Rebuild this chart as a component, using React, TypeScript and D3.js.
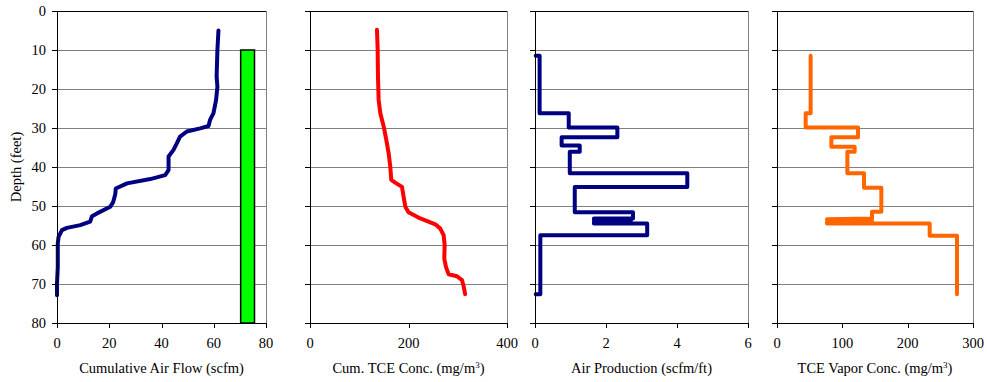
import * as d3 from "d3";

// depth axis
const depthTicks = [0, 10, 20, 30, 40, 50, 60, 70, 80];

// [value, depth] pairs
const airFlow: [number, number][] = [
  [61.8, 5.0], [61.4, 10], [61.1, 16.8], [61.4, 19.4], [60.9, 22.8], [59.9, 26.2],
  [58.6, 27.9], [58.0, 29.5], [54.8, 30.1], [49.7, 30.9], [47.1, 32.2], [45.9, 33.9],
  [44.6, 35.6], [42.7, 37.3], [42.7, 39.0], [42.7, 40.8], [41.4, 42.1], [35.7, 43.1],
  [26.8, 44.2], [22.5, 45.5], [22.3, 47.0], [21.5, 49.0], [20.4, 50.2], [15.3, 51.9],
  [13.4, 52.6], [12.7, 54.0], [8.9, 54.9], [3.8, 55.6], [1.9, 56.2], [0.6, 57.9],
  [0.3, 59.6], [0.3, 65.6], [0, 69.9], [0, 72.9],
];

const cumTce: [number, number][] = [
  [136, 4.8], [137.4, 9.9], [138, 16.8], [139.4, 22.8], [142.8, 26.2], [149.6, 29.6],
  [155, 33.1], [159.7, 36.5], [163, 39.9], [165, 43.3], [173, 44.0], [186.8, 45.1],
  [190, 47.6], [193.6, 50.2], [200, 51.6], [224, 53.2], [254.5, 54.7], [264.6, 55.8],
  [271.4, 57.5], [273.4, 60.0], [272.7, 63.5], [276, 65.6], [281.5, 67.5], [298.5, 68.0],
  [308.6, 69.0], [312, 70.6], [315, 72.6],
];

const airProduction: [number, number][] = [
  [0.02, 11.5], [0.13, 11.5], [0.13, 26.2], [0.95, 26.2], [0.95, 29.9], [2.32, 29.9],
  [2.32, 32.4], [0.75, 32.4], [0.75, 34.5], [1.26, 34.5], [1.26, 36.1], [0.98, 36.1],
  [0.98, 41.6], [4.29, 41.6], [4.29, 45.1], [1.12, 45.1], [1.12, 51.6], [2.76, 51.6],
  [2.76, 53.2], [1.66, 53.2], [1.66, 53.6], [2.7, 53.7], [1.66, 54.1], [1.66, 54.5],
  [3.16, 54.5], [3.16, 57.5], [0.15, 57.5], [0.15, 72.6], [0.02, 72.6],
];

const tceVapor: [number, number][] = [
  [51.5, 11.5], [51.5, 26.2], [43.9, 26.2], [43.9, 29.9], [124, 29.9], [124, 32.4],
  [83.2, 32.4], [83.2, 34.8], [118.9, 34.8], [118.9, 36.1], [107.7, 36.1], [107.7, 41.6],
  [133.2, 41.6], [133.2, 45.3], [159.7, 45.3], [159.7, 51.5], [145.4, 51.5], [145.4, 53.2],
  [76.5, 53.4], [145.4, 53.8], [76.5, 54.1], [76.5, 54.5], [233.7, 54.5], [233.7, 57.6],
  [275.5, 57.6], [275.5, 72.6],
];

// screened interval (x0, x1, depth top, depth bottom)
const screen = { x0: 70.3, x1: 75.6, top: 10, bottom: 80 };

const panels = [
  { left: 57, right: 266, max: 80, ticks: [0, 20, 40, 60, 80], data: airFlow, color: "#000080", title: "Cumulative Air Flow (scfm)", sup: false },
  { left: 310, right: 507, max: 400, ticks: [0, 200, 400], data: cumTce, color: "#ff0000", title: "Cum. TCE Conc. (mg/m", sup: true },
  { left: 535, right: 748, max: 6, ticks: [0, 2, 4, 6], data: airProduction, color: "#000080", title: "Air Production (scfm/ft)", sup: false },
  { left: 777, right: 973, max: 300, ticks: [0, 100, 200, 300], data: tceVapor, color: "#ff6600", title: "TCE Vapor Conc. (mg/m", sup: true },
];

const width = 987;
const height = 382;
const top = 11;
const bottom = 323;
const fs = 14.5;

const y = d3.scaleLinear().domain([0, 80]).range([top, bottom]);

export default function App() {
  return (
    <div style={{ position: "absolute", left: 0, top: 0 }}>
      <svg width={width} height={height}
        style={{ display: "block", background: "#fff", fontFamily: "Liberation Serif, DejaVu Serif, serif" }}>
        <text transform={`translate(21,${y(40)}) rotate(-90)`} textAnchor="middle" fontSize={fs}>Depth (feet)</text>
        {panels.map((p, i) => {
          const x = d3.scaleLinear().domain([0, p.max]).range([p.left, p.right]);
          const line = d3.line<[number, number]>().x(d => x(d[0])).y(d => y(d[1]));
          const cx = (p.left + p.right) / 2;
          return (
            <g key={i}>
              {depthTicks.slice(1, -1).map(t => (
                <line key={t} x1={p.left} x2={p.right} y1={y(t) + 0.5} y2={y(t) + 0.5} stroke="#808080" strokeWidth={1} />
              ))}
              <line x1={p.left} x2={p.right} y1={y(0) + 0.5} y2={y(0) + 0.5} stroke="#000" />
              <line x1={p.right + 0.5} x2={p.right + 0.5} y1={y(0)} y2={y(80)} stroke="#808080" />
              {i === 0 && (
                <rect x={x(screen.x0)} y={y(screen.top)} width={x(screen.x1) - x(screen.x0)} height={y(screen.bottom) - y(screen.top)}
                  fill="#00ff00" stroke="#000" strokeWidth={1.5} />
              )}
              <path d={line(p.data) ?? ""} fill="none" stroke={p.color} strokeWidth={4} strokeLinejoin="round" strokeLinecap="round" />
              {/* y axis */}
              <line x1={p.left + 0.5} x2={p.left + 0.5} y1={y(0)} y2={y(80) + 5} stroke="#000" />
              {depthTicks.map(t => (
                <g key={t}>
                  <line x1={p.left - 5} x2={p.left} y1={y(t) + 0.5} y2={y(t) + 0.5} stroke="#000" />
                  {i === 0 && (
                    <text x={p.left - 11} y={y(t)} dy="0.35em" textAnchor="end" fontSize={fs}>{t}</text>
                  )}
                </g>
              ))}
              {/* x axis */}
              <line x1={p.left} x2={p.right + 1} y1={y(80) + 0.5} y2={y(80) + 0.5} stroke="#000" />
              {p.ticks.map(t => (
                <g key={t}>
                  <line x1={Math.round(x(t)) + 0.5} x2={Math.round(x(t)) + 0.5} y1={y(80)} y2={y(80) + 5} stroke="#000" />
                  <text x={x(t)} y={343} dy="0.35em" textAnchor="middle" fontSize={fs}>{t}</text>
                </g>
              ))}
              <text x={cx} y={373} textAnchor="middle" fontSize={fs}>
                {p.title}
                {p.sup && (
                  <>
                    <tspan dy={-5} fontSize={9}>3</tspan>
                    <tspan dy={5}>)</tspan>
                  </>
                )}
              </text>
            </g>
          );
        })}
      </svg>
    </div>
  );
}
